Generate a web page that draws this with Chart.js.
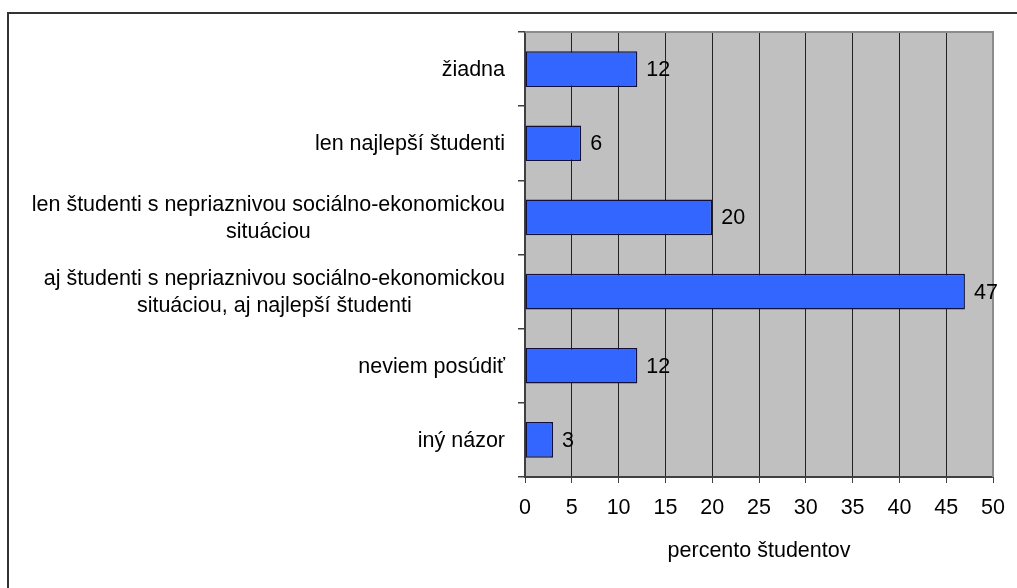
<!DOCTYPE html>
<html>
<head>
<meta charset="utf-8">
<script src="https://cdn.jsdelivr.net/npm/chart.js@4"></script>
<style>
  html, body { margin: 0; padding: 0; background: #fff; }
  #wrap { width: 1017px; height: 588px; position: relative; }
</style>
</head>
<body>
<div id="wrap"><canvas id="chart1"></canvas></div>
<script>
var categories = [
  'žiadna',
  'len najlepší študenti',
  ['len študenti s nepriaznivou sociálno-ekonomickou', 'situáciou'],
  ['aj študenti s nepriaznivou sociálno-ekonomickou', 'situáciou, aj najlepší študenti'],
  'neviem posúdiť',
  'iný názor'
]
var values = [12, 6, 20, 47, 12, 3]
var xTicks = [0, 5, 10, 15, 20, 25, 30, 35, 40, 45, 50]
var xTitle = 'percento študentov'

var FONT = "'Liberation Sans', Arial, sans-serif"
var FSIZE = 21.5

// background, frame, category labels and value labels
var decor = {
  id: 'decor',
  beforeDraw: function (chart) {
    var ctx = chart.ctx
    var a = chart.chartArea
    ctx.save()
    ctx.fillStyle = '#c0c0c0'
    ctx.fillRect(a.left, a.top, a.right - a.left, a.bottom - a.top)
    // outer frame (cut at right/bottom)
    ctx.strokeStyle = '#333'
    ctx.lineWidth = 2
    ctx.beginPath()
    ctx.moveTo(8, chart.height)
    ctx.lineTo(8, 13)
    ctx.lineTo(chart.width, 13)
    ctx.stroke()
    ctx.restore()
  },
  afterDatasetsDraw: function (chart) {
    var ctx = chart.ctx
    var a = chart.chartArea
    ctx.save()
    ctx.strokeStyle = '#8c8c8c'
    ctx.lineWidth = 2
    ctx.beginPath()
    ctx.moveTo(a.left, a.top)
    ctx.lineTo(a.right, a.top)
    ctx.lineTo(a.right, a.bottom)
    ctx.stroke()

    ctx.font = FSIZE + 'px ' + FONT
    ctx.fillStyle = '#000'
    ctx.textBaseline = 'middle'

    // value labels
    var meta = chart.getDatasetMeta(0)
    ctx.textAlign = 'left'
    meta.data.forEach(function (bar, i) {
      ctx.fillText(String(values[i]), bar.x + 9, bar.y + 1)
    })

    // category labels: block right-aligned, lines centered
    var ys = chart.scales.y
    var right = ys.right - 20
    var lh = 27
    ctx.textAlign = 'center'
    categories.forEach(function (lab, i) {
      var lines = Array.isArray(lab) ? lab : [lab]
      var w = 0
      lines.forEach(function (l) { w = Math.max(w, ctx.measureText(l).width) })
      var cy = ys.getPixelForTick(i)
      lines.forEach(function (l, j) {
        ctx.fillText(l, right - w / 2, cy + (j - (lines.length - 1) / 2) * lh + 1)
      })
    })
    ctx.restore()
  }
}

var chart1Element = document.getElementById('chart1').getContext('2d')

const data1 = {
  labels: categories,
  datasets: [
    {
      data: values,
      backgroundColor: '#3366ff',
      borderColor: '#10103a',
      borderWidth: 1.5,
      borderSkipped: false,
      barPercentage: 0.48,
      categoryPercentage: 1,
    },
  ],
}

const config1 = {
  type: 'bar',
  data: data1,
  options: {
    indexAxis: 'y',
    responsive: true,
    maintainAspectRatio: false,
    animation: false,
    layout: { padding: { top: 32, right: 24, left: 0, bottom: 0 } },
    plugins: { legend: { display: false }, tooltip: { enabled: false } },
    scales: {
      x: {
        min: 0,
        max: 50,
        afterBuildTicks: function (s) { s.ticks = xTicks.map(function (v) { return { value: v } }) },
        afterFit: function (s) { s.height = 111 },
        grid: { color: '#222', lineWidth: 1, tickLength: 6, tickColor: '#404040' },
        border: { color: '#404040', width: 2 },
        ticks: { color: '#000', padding: 12, font: { family: FONT, size: FSIZE }, maxRotation: 0 },
        title: {
          display: true,
          text: xTitle,
          color: '#000',
          font: { family: FONT, size: FSIZE },
          padding: { top: 0, bottom: 24 },
        },
      },
      y: {
        afterFit: function (s) { s.width = 525 },
        grid: { drawOnChartArea: false, offset: true, tickLength: 7, color: '#404040', lineWidth: 1.5 },
        border: { color: '#404040', width: 2 },
        ticks: { color: 'transparent', font: { family: FONT, size: FSIZE } },
      },
    },
  },
  plugins: [decor],
}

var chart1 = new Chart(chart1Element, config1)
</script>
</body>
</html>
